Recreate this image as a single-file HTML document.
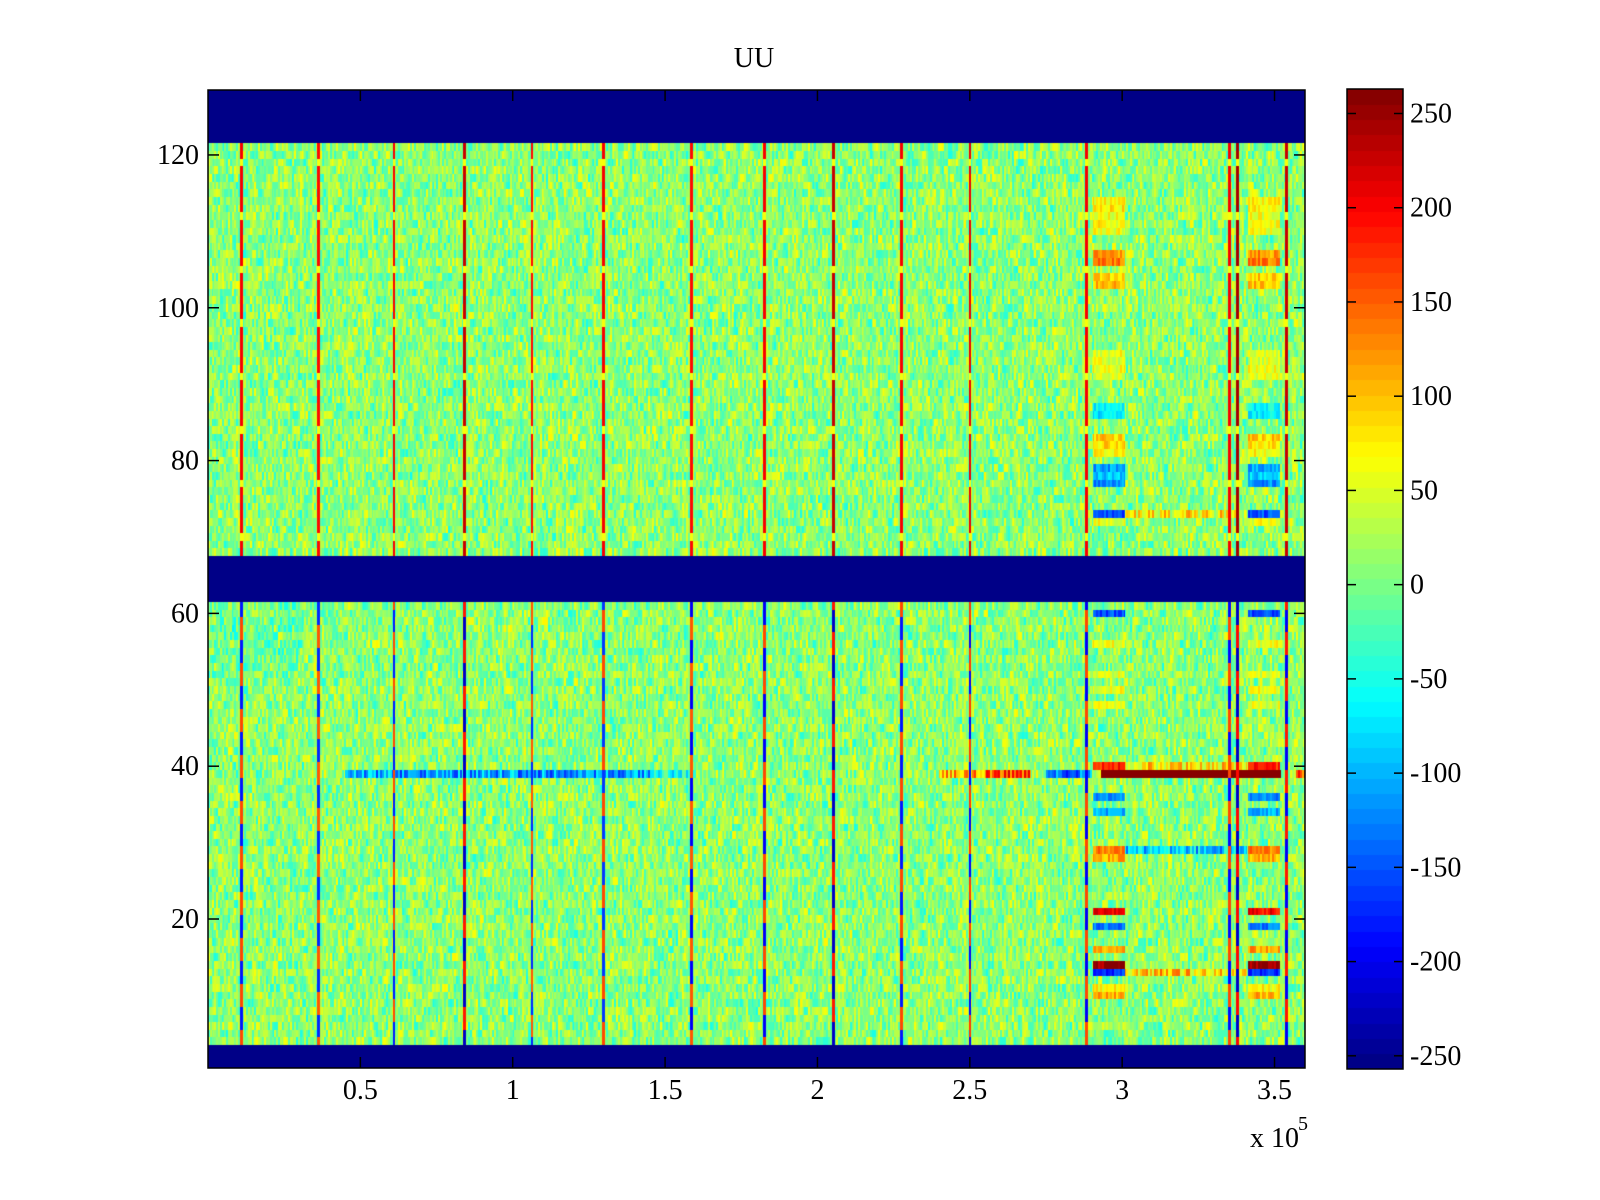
<!DOCTYPE html>
<html><head><meta charset="utf-8"><style>
html,body{margin:0;padding:0;background:#fff;}
#wrap{position:relative;width:1600px;height:1200px;overflow:hidden;font-family:"Liberation Serif",serif;}
canvas{position:absolute;}
svg{position:absolute;left:0;top:0;}
text{font-family:"Liberation Serif",serif;font-size:28px;fill:#000;}
</style></head><body>
<div id="wrap">
<canvas id="hm" width="1097" height="978" style="left:208px;top:90px;"></canvas>
<canvas id="cb" width="56" height="980" style="left:1347px;top:89px;"></canvas>
<svg id="ax" width="1600" height="1200"></svg>
</div>
<script>
// ---- data ----
const xTicks = [0.5, 1, 1.5, 2, 2.5, 3, 3.5];
const xTickLabels = ["0.5","1","1.5","2","2.5","3","3.5"];
const yTicks = [20, 40, 60, 80, 100, 120];
const yTickLabels = ["20","40","60","80","100","120"];
const cbTicks = [-250,-200,-150,-100,-50,0,50,100,150,200,250];
const cbTickLabels = ["-250","-200","-150","-100","-50","0","50","100","150","200","250"];
// empty (masked) row bands [firstRow, lastRow]
const bandStart = [1, 62, 122];
const bandEnd = [3, 67, 128];
const bandValue = -256;
// vertical stripe positions (x10^5) and their values in upper / lower halves
const stripeX = [0.111,0.362,0.610,0.841,1.063,1.297,1.586,1.827,2.052,2.276,2.501,2.883,3.352,3.379,3.540];
const stripeUpper = [200,190,200,230,190,200,190,200,230,200,210,200,200,240,230];
const stripeLower = [-180,-170,-180,-220,-170,-160,-200,-200,-220,-180,-200,-200,-190,-220,-200];
// special blocks (x10^5 ranges)
const blockX0 = [2.905, 3.413];
const blockX1 = [3.010, 3.518];
const blockRows = [114,113,112,111,110,107,106,104,103,94,93,92,91,87,86,83,82,81,79,78,77,73,72,60,56,52,50,48,40,36,34,29,28,21,19,16,14,13,11,10];
const blockVals = [70,80,60,70,60,120,130,90,100,60,50,60,55,-60,-70,90,80,70,-110,-90,-120,-150,60,-150,60,50,60,55,180,-120,-100,130,110,200,-130,120,250,-170,70,110];
// middle segment between blocks
const midRows = [73, 40, 29, 13];
const midVals = [70, 80, -90, 90];
const midX0 = 3.01, midX1 = 3.41;
// row 39 segments [x0, x1] with value
const r39X0 = [0.45, 1.45, 2.40, 2.55, 2.75, 2.93, 3.57];
const r39X1 = [1.45, 1.60, 2.55, 2.70, 2.90, 3.52, 3.60];
const r39Val = [-110, -60, 110, 160, -130, 256, 150];
const cMin = -257, cMax = 263;
const xMin = 0, xMax = 3.6, yMin = 0.5, yMax = 128.5;

// ---- geometry ----
const PL=208, PT=90, PW=1097, PH=978;
const CBL=1347, CBT=89, CBW=56, CBH=980;
const xs = v => PL + (v - xMin) / (xMax - xMin) * PW;
const ys = v => PT + (yMax - v) / (yMax - yMin) * PH;
const cbY = v => CBT + (cMax - v) / (cMax - cMin) * CBH;

function jet(t){
  const k = Math.min(63, Math.max(0, Math.floor(t*64)));
  const v = (k+0.5)/64;
  const f = c => Math.max(0, Math.min(1, 1.5 - Math.abs(4*v - c)));
  return [Math.round(f(3)*255), Math.round(f(2)*255), Math.round(f(1)*255)];
}
function col(val){ return jet((val - cMin)/(cMax - cMin)); }
function tex(i, j){
  let h = (i*374761393 + j*668265263) | 0;
  h = (h ^ (h >>> 13)) * 1274126177 | 0;
  h = h ^ (h >>> 16);
  return ((h >>> 0) % 1000) / 1000;
}

// ---- heatmap ----
(function(){
  const c = document.getElementById('hm'), g = c.getContext('2d');
  const img = g.createImageData(PW, PH);
  for (let r = 1; r <= 128; r++) {
    const y0 = Math.round(ys(r + 0.5) - PT), y1 = Math.round(ys(r - 0.5) - PT);
    let inBand = false;
    for (let b = 0; b < bandStart.length; b++) if (r >= bandStart[b] && r <= bandEnd[b]) inBand = true;
    const bi = blockRows.indexOf(r), mi = midRows.indexOf(r);
    for (let px = 0; px < PW; px++) {
      const x = xMin + (px + 0.5) / PW * (xMax - xMin);
      let v;
      if (inBand) v = bandValue;
      else {
        const t = tex(Math.floor(px/2), r);
        const t2 = 0.7 * t + 0.3 * tex(Math.floor(px/5)+3, r+131);
        v = -55 + 130 * t2;
        if (r >= 52 && r <= 61 && x < 0.3) v -= 15;
        for (let b = 0; b < 2; b++) if (bi >= 0 && x >= blockX0[b] && x <= blockX1[b]) v = blockVals[bi] + (t - 0.5) * 60;
        if (mi >= 0 && x > midX0 && x < midX1) v = midVals[mi] + (t - 0.5) * 120;
        if (r === 39) for (let s = 0; s < r39X0.length; s++) if (x >= r39X0[s] && x <= r39X1[s]) v = r39Val[s] + (s === 5 ? 0 : (t - 0.5) * 120);
        for (let s = 0; s < stripeX.length; s++) {
          if (Math.abs(x - stripeX[s]) < 0.0045) {
            if (r >= 68) v = (r % 7 === 0) ? 60 : stripeUpper[s];
            else v = ((r + s) % 6 < 3) ? stripeLower[s] : stripeUpper[s] * 0.8;
          }
        }
      }
      const cc = col(v);
      for (let y = Math.max(0,y0); y < Math.min(PH,y1); y++) {
        const o = (y * PW + px) * 4;
        img.data[o] = cc[0]; img.data[o+1] = cc[1]; img.data[o+2] = cc[2]; img.data[o+3] = 255;
      }
    }
  }
  g.putImageData(img, 0, 0);
})();

// ---- colorbar ----
(function(){
  const c = document.getElementById('cb'), g = c.getContext('2d');
  for (let k = 0; k < 64; k++) {
    const v0 = cMin + k*(cMax-cMin)/64, v1 = cMin + (k+1)*(cMax-cMin)/64;
    const cc = jet((k+0.5)/64);
    g.fillStyle = `rgb(${cc[0]},${cc[1]},${cc[2]})`;
    const y0 = Math.floor(cbY(v1) - CBT), y1 = Math.ceil(cbY(v0) - CBT);
    g.fillRect(0, y0, CBW, y1 - y0);
  }
})();

// ---- axes ----
(function(){
  const svg = document.getElementById('ax'), NS = 'http://www.w3.org/2000/svg';
  function el(tag, attrs, parent){ const e = document.createElementNS(NS, tag); for (const k in attrs) e.setAttribute(k, attrs[k]); (parent||svg).appendChild(e); return e; }
  const box = el('rect', {x:PL, y:PT, width:PW, height:PH, fill:'none', stroke:'#000', 'stroke-width':1.5});
  
  
  const cbox = el('rect', {x:CBL, y:CBT, width:CBW, height:CBH, fill:'none', stroke:'#000', 'stroke-width':1.5});
  
  
  xTicks.forEach((t, i) => {
    const x = xs(t);
    el('line', {x1:x, x2:x, y1:PT+PH, y2:PT+PH-11, stroke:'#000', 'stroke-width':1.5});
    el('line', {x1:x, x2:x, y1:PT, y2:PT+11, stroke:'#000', 'stroke-width':1.5});
    const tx = el('text', {x:x, y:1099, 'text-anchor':'middle'});
    tx.textContent = xTickLabels[i];
    
    
  });
  yTicks.forEach((t, i) => {
    const y = ys(t);
    el('line', {x1:PL, x2:PL+11, y1:y, y2:y, stroke:'#000', 'stroke-width':1.5});
    el('line', {x1:PL+PW, x2:PL+PW-11, y1:y, y2:y, stroke:'#000', 'stroke-width':1.5});
    const tx = el('text', {x:199, y:y+9, 'text-anchor':'end'});
    tx.textContent = yTickLabels[i];
    
    
  });
  cbTicks.forEach((t, i) => {
    const y = cbY(t);
    el('line', {x1:CBL, x2:CBL+9, y1:y, y2:y, stroke:'#000', 'stroke-width':1.5});
    el('line', {x1:CBL+CBW, x2:CBL+CBW-9, y1:y, y2:y, stroke:'#000', 'stroke-width':1.5});
    const tx = el('text', {x:1410, y:y+9, 'text-anchor':'start'});
    tx.textContent = cbTickLabels[i];
    
    
  });
  const title = el('text', {x:754, y:67, 'text-anchor':'middle'});
  title.textContent = 'UU';
  
  
  const ex = el('text', {x:1250, y:1147});
  ex.textContent = 'x 10';
  
  
  const sup = el('text', {x:1298, y:1130, style:'font-size:20px'});
  sup.textContent = '5';
  
  
})();
</script>
</body></html>
